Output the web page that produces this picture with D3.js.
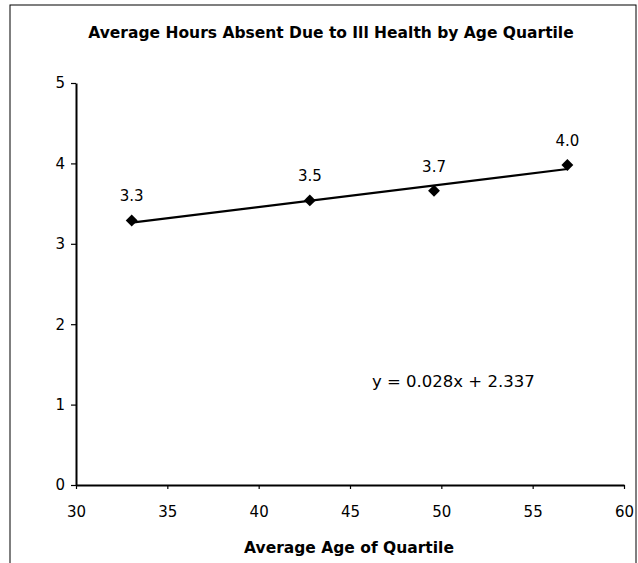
<!DOCTYPE html>
<html>
<head>
<meta charset="utf-8">
<script src="https://cdn.jsdelivr.net/npm/d3@7"></script>
<style>
  html, body { margin: 0; padding: 0; background: #fff; }
  svg { display: block; }
  text { font-family: "DejaVu Sans", Verdana, sans-serif; fill: #000; }
</style>
</head>
<body>
<svg id="chart" width="638" height="563"></svg>
<script>
// Average age of each quartile and mean hours absent
const ages = [33.05, 42.8, 49.6, 56.9];
const hours = [3.29, 3.54, 3.66, 3.98];
const xTicks = [30, 35, 40, 45, 50, 55, 60];
const yTicks = [0, 1, 2, 3, 4, 5];
// Linear trend: y = slope * x + intercept
const slope = 0.028;
const intercept = 2.337;

const svg = d3.select("#chart");

// Outer frame
svg.append("rect")
  .attr("x", 10).attr("y", 5)
  .attr("width", 626).attr("height", 600)
  .attr("fill", "none").attr("stroke", "#000").attr("stroke-width", 1);

const x = d3.scaleLinear().domain([30, 60]).range([76, 624]);
const y = d3.scaleLinear().domain([0, 5]).range([485, 83]);

// Title
svg.append("text")
  .attr("x", 331).attr("y", 38)
  .attr("text-anchor", "middle")
  .style("font-size", "15.5px").style("font-weight", "bold")
  .text("Average Hours Absent Due to Ill Health by Age Quartile");

// Axes
const xAxis = svg.append("g")
  .attr("transform", `translate(0,${y(0)})`)
  .call(d3.axisBottom(x).tickValues(xTicks).tickFormat(d3.format("d"))
    .tickSizeInner(4).tickSizeOuter(0).tickPadding(17));
const yAxis = svg.append("g")
  .attr("transform", `translate(${x(30)},0)`)
  .call(d3.axisLeft(y).tickValues(yTicks).tickFormat(d3.format("d"))
    .tickSizeInner(5).tickSizeOuter(0).tickPadding(6));

[xAxis, yAxis].forEach(g => {
  g.select(".domain").attr("stroke", "#000").attr("stroke-width", 2);
  g.selectAll(".tick line").attr("stroke", "#000").attr("stroke-width", 1.2);
  g.selectAll(".tick text")
    .style("font-size", "15px")
    .style("font-family", "'DejaVu Sans', Verdana, sans-serif")
    .attr("fill", "#000");
});

// Axis title
svg.append("text")
  .attr("x", 349).attr("y", 553)
  .attr("text-anchor", "middle")
  .style("font-size", "15.5px").style("font-weight", "bold")
  .text("Average Age of Quartile");

// Trend line across the span of the data
const xMin = d3.min(ages), xMax = d3.max(ages);
svg.append("line")
  .attr("x1", x(xMin)).attr("y1", y(slope * xMin + intercept))
  .attr("x2", x(xMax)).attr("y2", y(slope * xMax + intercept))
  .attr("stroke", "#000").attr("stroke-width", 2.2);

// Data points as diamonds
const pts = ages.map((a, i) => ({ a, h: hours[i] }));
svg.append("g").selectAll("path")
  .data(pts)
  .join("path")
  .attr("transform", d => `translate(${x(d.a)},${y(d.h)})`)
  .attr("d", d3.symbol().type(d3.symbolDiamond2).size(90))
  .attr("fill", "#000");

// Value labels
svg.append("g").selectAll("text")
  .data(pts)
  .join("text")
  .attr("x", d => x(d.a))
  .attr("y", d => y(d.h) - 19)
  .attr("text-anchor", "middle")
  .style("font-size", "15px")
  .text(d => d.h.toFixed(1));

// Trend equation
svg.append("text")
  .attr("x", 372).attr("y", 387)
  .style("font-size", "16.5px")
  .text(`y = ${slope.toFixed(3)}x + ${intercept.toFixed(3)}`);
</script>
</body>
</html>
